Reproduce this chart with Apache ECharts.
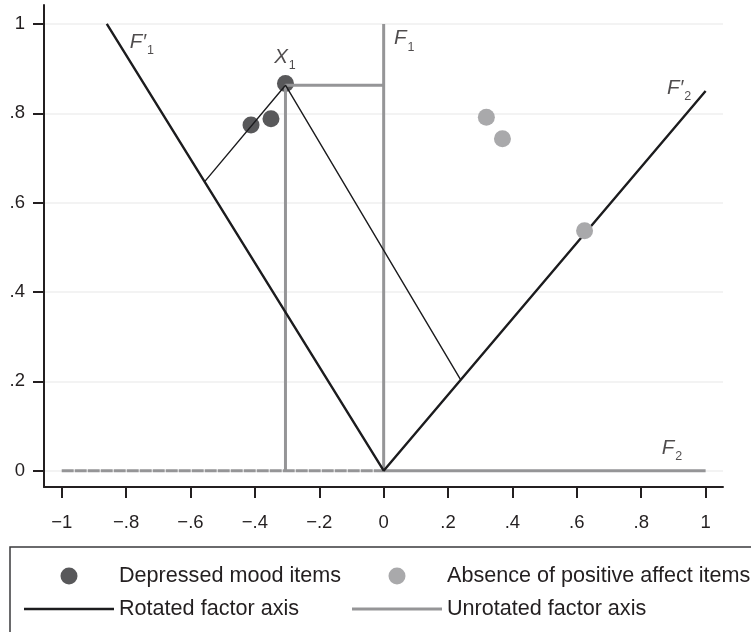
<!DOCTYPE html>
<html>
<head>
<meta charset="utf-8">
<script src="https://cdn.jsdelivr.net/npm/echarts@6/dist/echarts.min.js"></script>
<style>
  html, body { margin: 0; padding: 0; background: #ffffff; }
  #chart { width: 751px; height: 632px; }
</style>
</head>
<body>
<div id="chart"></div>
<script>
// Axis ticks
const xTicks = [-1, -0.8, -0.6, -0.4, -0.2, 0, 0.2, 0.4, 0.6, 0.8, 1];
const xTickLabels = ['\u22121', '\u2212.8', '\u2212.6', '\u2212.4', '\u2212.2', '0', '.2', '.4', '.6', '.8', '1'];
const yTicks = [0, 0.2, 0.4, 0.6, 0.8, 1];
const yTickLabels = ['0', '.2', '.4', '.6', '.8', '1'];

// Item loadings
const depressedX = [-0.305, -0.412, -0.350];
const depressedY = [0.867, 0.774, 0.788];
const absenceX = [0.319, 0.369, 0.624];
const absenceY = [0.791, 0.743, 0.537];

// Rotated factor axes F'1 and F'2 (through the origin)
const rotatedX = [-0.86, 0, 1.0];
const rotatedY = [1.0, 0, 0.85];

// Unrotated factor axes F1 (vertical) and F2 (horizontal)
const f1X = [0, 0];
const f1Y = [0, 1];
const f2LeftX = [-1, 0];
const f2LeftY = [0, 0];
const f2RightX = [0, 1];
const f2RightY = [0, 0];

// Coordinates of X1 on the unrotated axes
const x1DropX = [-0.305, -0.305, 0];
const x1DropY = [0, 0.863, 0.863];

// Projections of X1 onto the rotated axes
const projX = [-0.556, -0.305, 0.238];
const projY = [0.647, 0.863, 0.205];

// Axis annotations
const annoText = ['F\u2032|1', 'X|1', 'F|1', 'F\u2032|2', 'F|2'];
const annoX = [-0.789, -0.340, 0.032, 0.880, 0.864];
const annoY = [0.959, 0.925, 0.967, 0.857, 0.050];

const FONT = '"Liberation Sans", Arial, Helvetica, sans-serif';
const zip = (xs, ys) => xs.map((x, i) => [x, ys[i]]);

const DARK = '#58585a';
const LIGHT = '#a9a9ab';
const GREY_LINE = '#959597';
const BLACK = '#1c1c1e';

function lineSeries(name, xs, ys, color, width, z, dash) {
  return {
    type: 'line', name: name, data: zip(xs, ys),
    symbol: 'none', showSymbol: false, silent: true, z: z,
    lineStyle: { color: color, width: width, type: dash || 'solid', cap: 'butt' },
    itemStyle: { color: color },
    animation: false
  };
}

const chart = echarts.init(document.getElementById('chart'), null, { renderer: 'canvas' });

const legendText = { fontSize: 21.6, color: '#231f20', fontFamily: FONT };

const option = {
  backgroundColor: '#ffffff',
  animation: false,
  textStyle: { fontFamily: FONT },
  grid: { left: 44, right: 28, top: 5, bottom: 145, containLabel: false, outerBoundsMode: 'none' },
  xAxis: {
    type: 'value', min: -1.055, max: 1.054,
    axisLine: { show: true, onZero: false, lineStyle: { color: '#231f20', width: 2 } },
    axisTick: { show: true, customValues: xTicks, length: 11, lineStyle: { color: '#231f20', width: 2 } },
    axisLabel: {
      show: true, customValues: xTicks, margin: 26, fontSize: 18.5, color: '#231f20', fontFamily: FONT,
      formatter: v => xTickLabels[xTicks.findIndex(t => Math.abs(t - v) < 1e-9)]
    },
    splitLine: { show: false }
  },
  yAxis: {
    type: 'value', min: -0.0365, max: 1.0425,
    axisLine: { show: true, onZero: false, lineStyle: { color: '#231f20', width: 2 } },
    axisTick: { show: true, customValues: yTicks, length: 11, lineStyle: { color: '#231f20', width: 2 } },
    axisLabel: {
      show: true, customValues: yTicks, margin: 19, fontSize: 18.5, color: '#231f20', fontFamily: FONT,
      formatter: v => yTickLabels[yTicks.findIndex(t => Math.abs(t - v) < 1e-9)]
    },
    splitLine: { show: true, lineStyle: { color: '#efefef', width: 1.5 } }
  },
  legend: [
    {
      data: [
        { name: 'Depressed mood items', icon: 'circle' },
        { name: 'Rotated factor axis', icon: 'path://M0,0H90V2.4H0Z' }
      ],
      orient: 'vertical', left: 24, top: 565, padding: 0, itemWidth: 90, itemHeight: 17, itemGap: 11,
      selectedMode: false, textStyle: legendText
    },
    {
      data: [
        { name: 'Absence of positive affect items', icon: 'circle' },
        { name: 'Unrotated factor axis', icon: 'path://M0,0H90V3H0Z' }
      ],
      orient: 'vertical', left: 352, top: 565, padding: 0, itemWidth: 90, itemHeight: 17, itemGap: 11,
      selectedMode: false, textStyle: legendText
    }
  ],
  graphic: [
    {
      type: 'rect', silent: true, z: 0,
      shape: { x: 10, y: 547, width: 800, height: 120 },
      style: { fill: 'none', stroke: '#3a3a3c', lineWidth: 1.5 }
    }
  ],
  series: [
    {
      type: 'scatter', name: 'Depressed mood items', data: zip(depressedX, depressedY),
      symbol: 'circle', symbolSize: 17, z: 2, silent: true,
      itemStyle: { color: DARK, opacity: 1 }
    },
    lineSeries('Unrotated factor axis', f1X, f1Y, GREY_LINE, 3, 3),
    lineSeries('Unrotated factor axis', f2LeftX, f2LeftY, GREY_LINE, 3, 3, [12, 1]),
    lineSeries('Unrotated factor axis', f2RightX, f2RightY, GREY_LINE, 3, 3),
    lineSeries('Unrotated factor axis', x1DropX, x1DropY, GREY_LINE, 3, 3),
    lineSeries('Rotated factor axis', rotatedX, rotatedY, BLACK, 2.4, 4),
    lineSeries('X1 projections', projX, projY, BLACK, 1.4, 4),
    {
      type: 'scatter', name: 'Absence of positive affect items', data: zip(absenceX, absenceY),
      symbol: 'circle', symbolSize: 17, z: 5, silent: true,
      itemStyle: { color: LIGHT, opacity: 1 }
    },
    {
      type: 'scatter', name: 'Axis names', silent: true, z: 6,
      symbolSize: 0,
      data: annoText.map((t, i) => ({ name: t, value: [annoX[i], annoY[i]] })),
      label: {
        show: true, position: 'right', distance: 0,
        formatter: p => {
          const parts = p.name.split('|');
          return '{f|' + parts[0] + '}{s|' + parts[1] + '}';
        },
        rich: {
          f: { fontSize: 20.5, fontStyle: 'italic', color: '#231f20', lineHeight: 21, fontFamily: FONT },
          s: { fontSize: 12.5, color: '#231f20', lineHeight: 12, padding: [17, 0, 0, 1], fontFamily: FONT }
        }
      }
    }
  ]
};

chart.setOption(option);
</script>
</body>
</html>
